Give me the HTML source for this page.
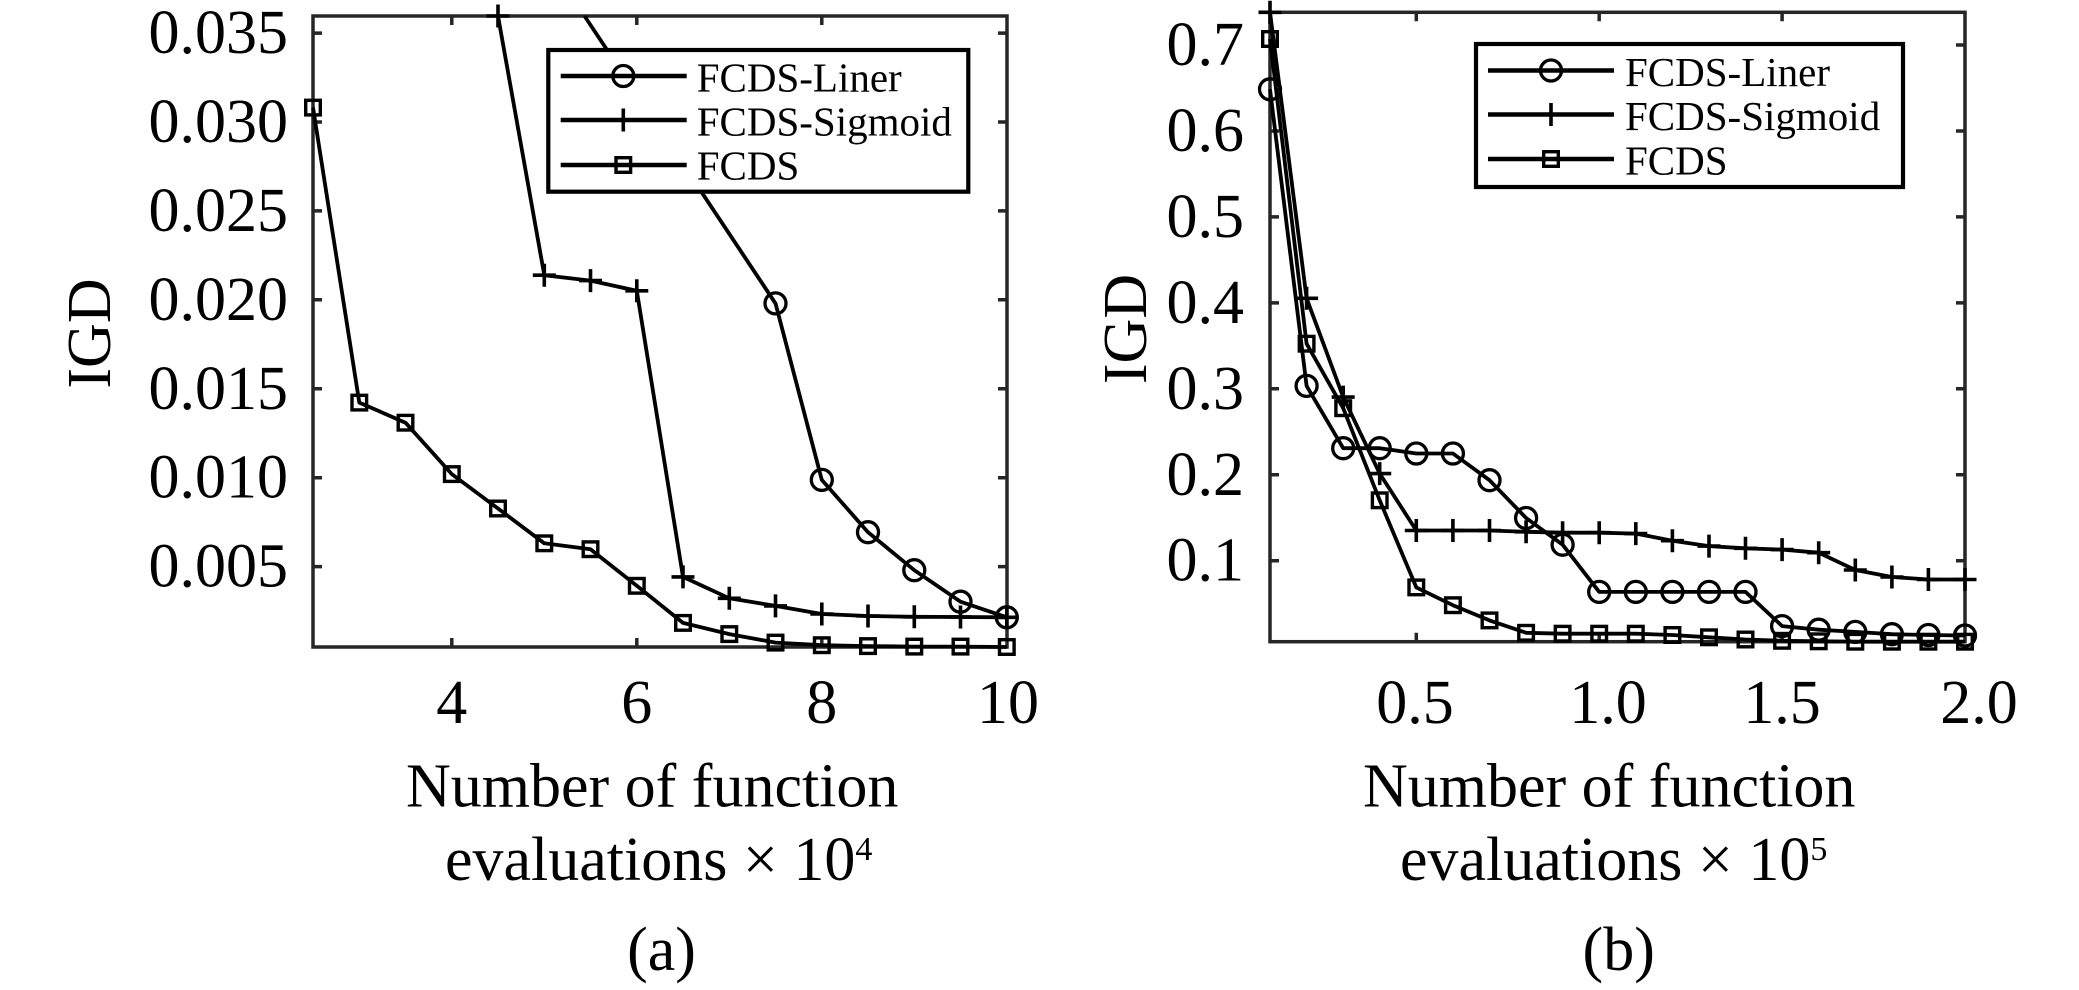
<!DOCTYPE html>
<html>
<head>
<meta charset="utf-8">
<style>
  html, body { margin: 0; padding: 0; background: #ffffff; }
  svg { display: block; }
  text { font-family: "Liberation Serif", "Times New Roman", serif; fill: #000; }
</style>
</head>
<body>
<svg width="2079" height="990" viewBox="0 0 2079 990" xmlns="http://www.w3.org/2000/svg">
  <defs>
    <g id="mc"><circle cx="0" cy="0" r="10.5" fill="none" stroke="#000" stroke-width="3.3"/></g>
    <g id="ms"><rect x="-7.3" y="-7.3" width="14.6" height="14.6" fill="none" stroke="#000" stroke-width="3.4"/></g>
    <g id="mp"><path d="M-11.5 0 H11.5 M0 -11.5 V11.5" stroke="#000" stroke-width="3.6" fill="none"/></g>
  </defs>
  <rect x="0" y="0" width="2079" height="990" fill="#fff"/>

  <!-- ================= Panel (a) ================= -->
  <rect x="313" y="16" width="694" height="631" fill="none" stroke="#262626" stroke-width="3.5"/>
  <g stroke="#262626" stroke-width="3.5">
    <path d="M451.8 647 V638 M636.8 647 V638 M821.8 647 V638"/>
    <path d="M451.8 16 V25 M636.8 16 V25 M821.8 16 V25"/>
    <path d="M313 566.6 H322 M313 477.7 H322 M313 388.8 H322 M313 299.8 H322 M313 210.9 H322 M313 122 H322 M313 33.1 H322"/>
    <path d="M1007 566.6 H998 M1007 477.7 H998 M1007 388.8 H998 M1007 299.8 H998 M1007 210.9 H998 M1007 122 H998 M1007 33.1 H998"/>
  </g>
  <g font-size="62" text-anchor="end">
    <text x="288" y="586.6">0.005</text>
    <text x="288" y="497.7">0.010</text>
    <text x="288" y="408.8">0.015</text>
    <text x="288" y="319.8">0.020</text>
    <text x="288" y="230.9">0.025</text>
    <text x="288" y="142">0.030</text>
    <text x="288" y="53.1">0.035</text>
  </g>
  <g font-size="62" text-anchor="middle">
    <text x="451.8" y="723">4</text>
    <text x="636.8" y="723">6</text>
    <text x="821.8" y="723">8</text>
    <text x="1008" y="723">10</text>
  </g>
  <text font-size="62" text-anchor="middle" transform="translate(110 333.5) rotate(-90)">IGD</text>
  <text font-size="62" x="406" y="806.7">Number of function</text>
  <text font-size="62" x="445" y="880">evaluations × 10<tspan font-size="34" dy="-20">4</tspan></text>
  <text font-size="62" x="661.5" y="970" text-anchor="middle">(a)</text>

  <g fill="none" stroke="#000" stroke-width="3.8" stroke-linejoin="round">
    <polyline points="313,107.6 359.3,402.6 405.5,422.7 451.8,474.1 498,508.5 544.3,543.3 590.5,549.2 636.8,585.8 683,622.9 729.3,634.1 775.5,642.6 821.8,645.2 868,646.1 914.3,646.6 960.5,646.6 1006.8,647"/>
    <polyline points="498,16 544.3,275.2 590.5,280.6 636.8,290.8 683,576.9 729.3,598.3 775.5,605.9 821.8,614 868,616 914.3,616.8 960.5,617 1006.8,617.3"/>
    <polyline points="584.5,16 775.5,303.4 821.8,479.9 868,532.2 914.3,570.2 960.5,601.7 1006.8,617.3"/>
  </g>
  <g>
    <use href="#ms" x="313" y="107.6"/><use href="#ms" x="359.3" y="402.6"/><use href="#ms" x="405.5" y="422.7"/>
    <use href="#ms" x="451.8" y="474.1"/><use href="#ms" x="498" y="508.5"/><use href="#ms" x="544.3" y="543.3"/>
    <use href="#ms" x="590.5" y="549.2"/><use href="#ms" x="636.8" y="585.8"/><use href="#ms" x="683" y="622.9"/>
    <use href="#ms" x="729.3" y="634.1"/><use href="#ms" x="775.5" y="642.6"/><use href="#ms" x="821.8" y="645.2"/>
    <use href="#ms" x="868" y="646.1"/><use href="#ms" x="914.3" y="646.6"/><use href="#ms" x="960.5" y="646.6"/>
    <use href="#ms" x="1006.8" y="647"/>
  </g>
  <g>
    <use href="#mp" x="498" y="16"/><use href="#mp" x="544.3" y="275.2"/><use href="#mp" x="590.5" y="280.6"/>
    <use href="#mp" x="636.8" y="290.8"/><use href="#mp" x="683" y="576.9"/><use href="#mp" x="729.3" y="598.3"/>
    <use href="#mp" x="775.5" y="605.9"/><use href="#mp" x="821.8" y="614"/><use href="#mp" x="868" y="616"/>
    <use href="#mp" x="914.3" y="616.8"/><use href="#mp" x="960.5" y="617"/><use href="#mp" x="1006.8" y="617.3"/>
  </g>
  <g>
    <use href="#mc" x="775.5" y="303.4"/><use href="#mc" x="821.8" y="479.9"/><use href="#mc" x="868" y="532.2"/>
    <use href="#mc" x="914.3" y="570.2"/><use href="#mc" x="960.5" y="601.7"/><use href="#mc" x="1006.8" y="617.3"/>
  </g>
  <rect x="548.3" y="50" width="420" height="141.7" fill="#fff" stroke="#000" stroke-width="4.2"/>
  <g stroke="#000" stroke-width="4.5">
    <path d="M560.7 76 H686.7 M560.7 120 H686.7 M560.7 165 H686.7"/>
  </g>
  <use href="#mc" x="623.3" y="76"/>
  <use href="#mp" x="623.3" y="120"/>
  <use href="#ms" x="623.3" y="165"/>
  <g font-size="41">
    <text x="696.7" y="91.5">FCDS-Liner</text>
    <text x="696.7" y="135.5">FCDS-Sigmoid</text>
    <text x="696.7" y="179.5">FCDS</text>
  </g>

  <!-- ================= Panel (b) ================= -->
  <rect x="1270" y="12.3" width="695" height="629.4" fill="none" stroke="#262626" stroke-width="3.5"/>
  <g stroke="#262626" stroke-width="3.5">
    <path d="M1416.3 641.7 V632.7 M1599.2 641.7 V632.7 M1782.1 641.7 V632.7"/>
    <path d="M1416.3 12.3 V21.3 M1599.2 12.3 V21.3 M1782.1 12.3 V21.3"/>
    <path d="M1270 560.7 H1279 M1270 474.8 H1279 M1270 388.8 H1279 M1270 302.9 H1279 M1270 216.9 H1279 M1270 131 H1279 M1270 45 H1279"/>
    <path d="M1965 560.7 H1956 M1965 474.8 H1956 M1965 388.8 H1956 M1965 302.9 H1956 M1965 216.9 H1956 M1965 131 H1956 M1965 45 H1956"/>
  </g>
  <g font-size="62" text-anchor="end">
    <text x="1244" y="580.7">0.1</text>
    <text x="1244" y="494.8">0.2</text>
    <text x="1244" y="408.8">0.3</text>
    <text x="1244" y="322.9">0.4</text>
    <text x="1244" y="236.9">0.5</text>
    <text x="1244" y="151">0.6</text>
    <text x="1244" y="65">0.7</text>
  </g>
  <g font-size="62" text-anchor="middle">
    <text x="1415" y="723">0.5</text>
    <text x="1608" y="723">1.0</text>
    <text x="1782" y="723">1.5</text>
    <text x="1979" y="723">2.0</text>
  </g>
  <text font-size="62" text-anchor="middle" transform="translate(1146 329) rotate(-90)">IGD</text>
  <text font-size="62" x="1363" y="806.7">Number of function</text>
  <text font-size="62" x="1400" y="880">evaluations × 10<tspan font-size="34" dy="-20">5</tspan></text>
  <text font-size="62" x="1618.7" y="970" text-anchor="middle">(b)</text>

  <g fill="none" stroke="#000" stroke-width="3.8" stroke-linejoin="round">
    <polyline points="1270,89.3 1306.6,385.9 1343.2,448.2 1379.7,448.2 1416.3,453.5 1452.9,453.5 1489.5,480.2 1526.1,518 1562.6,544.7 1599.2,591.9 1635.8,591.9 1672.4,591.9 1709,591.9 1745.5,591.9 1782.1,626.1 1818.7,629.7 1855.3,631.9 1891.9,634.2 1928.4,635 1965,635.5"/>
    <polyline points="1270,12.3 1306.6,298.3 1343.2,397.1 1379.7,473.6 1416.3,530.5 1452.9,530.5 1489.5,530.5 1526.1,531.8 1562.6,532.7 1599.2,532.7 1635.8,533.6 1672.4,540.7 1709,546.1 1745.5,548.3 1782.1,549.6 1818.7,552.7 1855.3,570 1891.9,577 1928.4,579.5 1965,579.5"/>
    <polyline points="1270,39 1306.6,343.7 1343.2,408.2 1379.7,500.3 1416.3,587.4 1452.9,605.2 1489.5,620.4 1526.1,632.8 1562.6,633.7 1599.2,633.7 1635.8,633.7 1672.4,635 1709,637.3 1745.5,639.5 1782.1,640.8 1818.7,641.3 1855.3,641.7 1891.9,641.7 1928.4,641.7 1965,641.7"/>
  </g>
  <g>
    <use href="#mc" x="1270" y="89.3"/><use href="#mc" x="1306.6" y="385.9"/><use href="#mc" x="1343.2" y="448.2"/>
    <use href="#mc" x="1379.7" y="448.2"/><use href="#mc" x="1416.3" y="453.5"/><use href="#mc" x="1452.9" y="453.5"/>
    <use href="#mc" x="1489.5" y="480.2"/><use href="#mc" x="1526.1" y="518"/><use href="#mc" x="1562.6" y="544.7"/>
    <use href="#mc" x="1599.2" y="591.9"/><use href="#mc" x="1635.8" y="591.9"/><use href="#mc" x="1672.4" y="591.9"/>
    <use href="#mc" x="1709" y="591.9"/><use href="#mc" x="1745.5" y="591.9"/><use href="#mc" x="1782.1" y="626.1"/>
    <use href="#mc" x="1818.7" y="629.7"/><use href="#mc" x="1855.3" y="631.9"/><use href="#mc" x="1891.9" y="634.2"/>
    <use href="#mc" x="1928.4" y="635"/><use href="#mc" x="1965" y="635.5"/>
  </g>
  <g>
    <use href="#mp" x="1270" y="12.3"/><use href="#mp" x="1306.6" y="298.3"/><use href="#mp" x="1343.2" y="397.1"/>
    <use href="#mp" x="1379.7" y="473.6"/><use href="#mp" x="1416.3" y="530.5"/><use href="#mp" x="1452.9" y="530.5"/>
    <use href="#mp" x="1489.5" y="530.5"/><use href="#mp" x="1526.1" y="531.8"/><use href="#mp" x="1562.6" y="532.7"/>
    <use href="#mp" x="1599.2" y="532.7"/><use href="#mp" x="1635.8" y="533.6"/><use href="#mp" x="1672.4" y="540.7"/>
    <use href="#mp" x="1709" y="546.1"/><use href="#mp" x="1745.5" y="548.3"/><use href="#mp" x="1782.1" y="549.6"/>
    <use href="#mp" x="1818.7" y="552.7"/><use href="#mp" x="1855.3" y="570"/><use href="#mp" x="1891.9" y="577"/>
    <use href="#mp" x="1928.4" y="579.5"/><use href="#mp" x="1965" y="579.5"/>
  </g>
  <g>
    <use href="#ms" x="1270" y="39"/><use href="#ms" x="1306.6" y="343.7"/><use href="#ms" x="1343.2" y="408.2"/>
    <use href="#ms" x="1379.7" y="500.3"/><use href="#ms" x="1416.3" y="587.4"/><use href="#ms" x="1452.9" y="605.2"/>
    <use href="#ms" x="1489.5" y="620.4"/><use href="#ms" x="1526.1" y="632.8"/><use href="#ms" x="1562.6" y="633.7"/>
    <use href="#ms" x="1599.2" y="633.7"/><use href="#ms" x="1635.8" y="633.7"/><use href="#ms" x="1672.4" y="635"/>
    <use href="#ms" x="1709" y="637.3"/><use href="#ms" x="1745.5" y="639.5"/><use href="#ms" x="1782.1" y="640.8"/>
    <use href="#ms" x="1818.7" y="641.3"/><use href="#ms" x="1855.3" y="641.7"/><use href="#ms" x="1891.9" y="641.7"/>
    <use href="#ms" x="1928.4" y="641.7"/><use href="#ms" x="1965" y="641.7"/>
  </g>
  <rect x="1476" y="44" width="427" height="143" fill="#fff" stroke="#000" stroke-width="4.2"/>
  <g stroke="#000" stroke-width="4.5">
    <path d="M1488 70.5 H1614 M1488 114.5 H1614 M1488 159 H1614"/>
  </g>
  <use href="#mc" x="1551" y="70.5"/>
  <use href="#mp" x="1551" y="114.5"/>
  <use href="#ms" x="1551" y="159"/>
  <g font-size="41">
    <text x="1625" y="86">FCDS-Liner</text>
    <text x="1625" y="130">FCDS-Sigmoid</text>
    <text x="1625" y="174.5">FCDS</text>
  </g>
</svg>
</body>
</html>
